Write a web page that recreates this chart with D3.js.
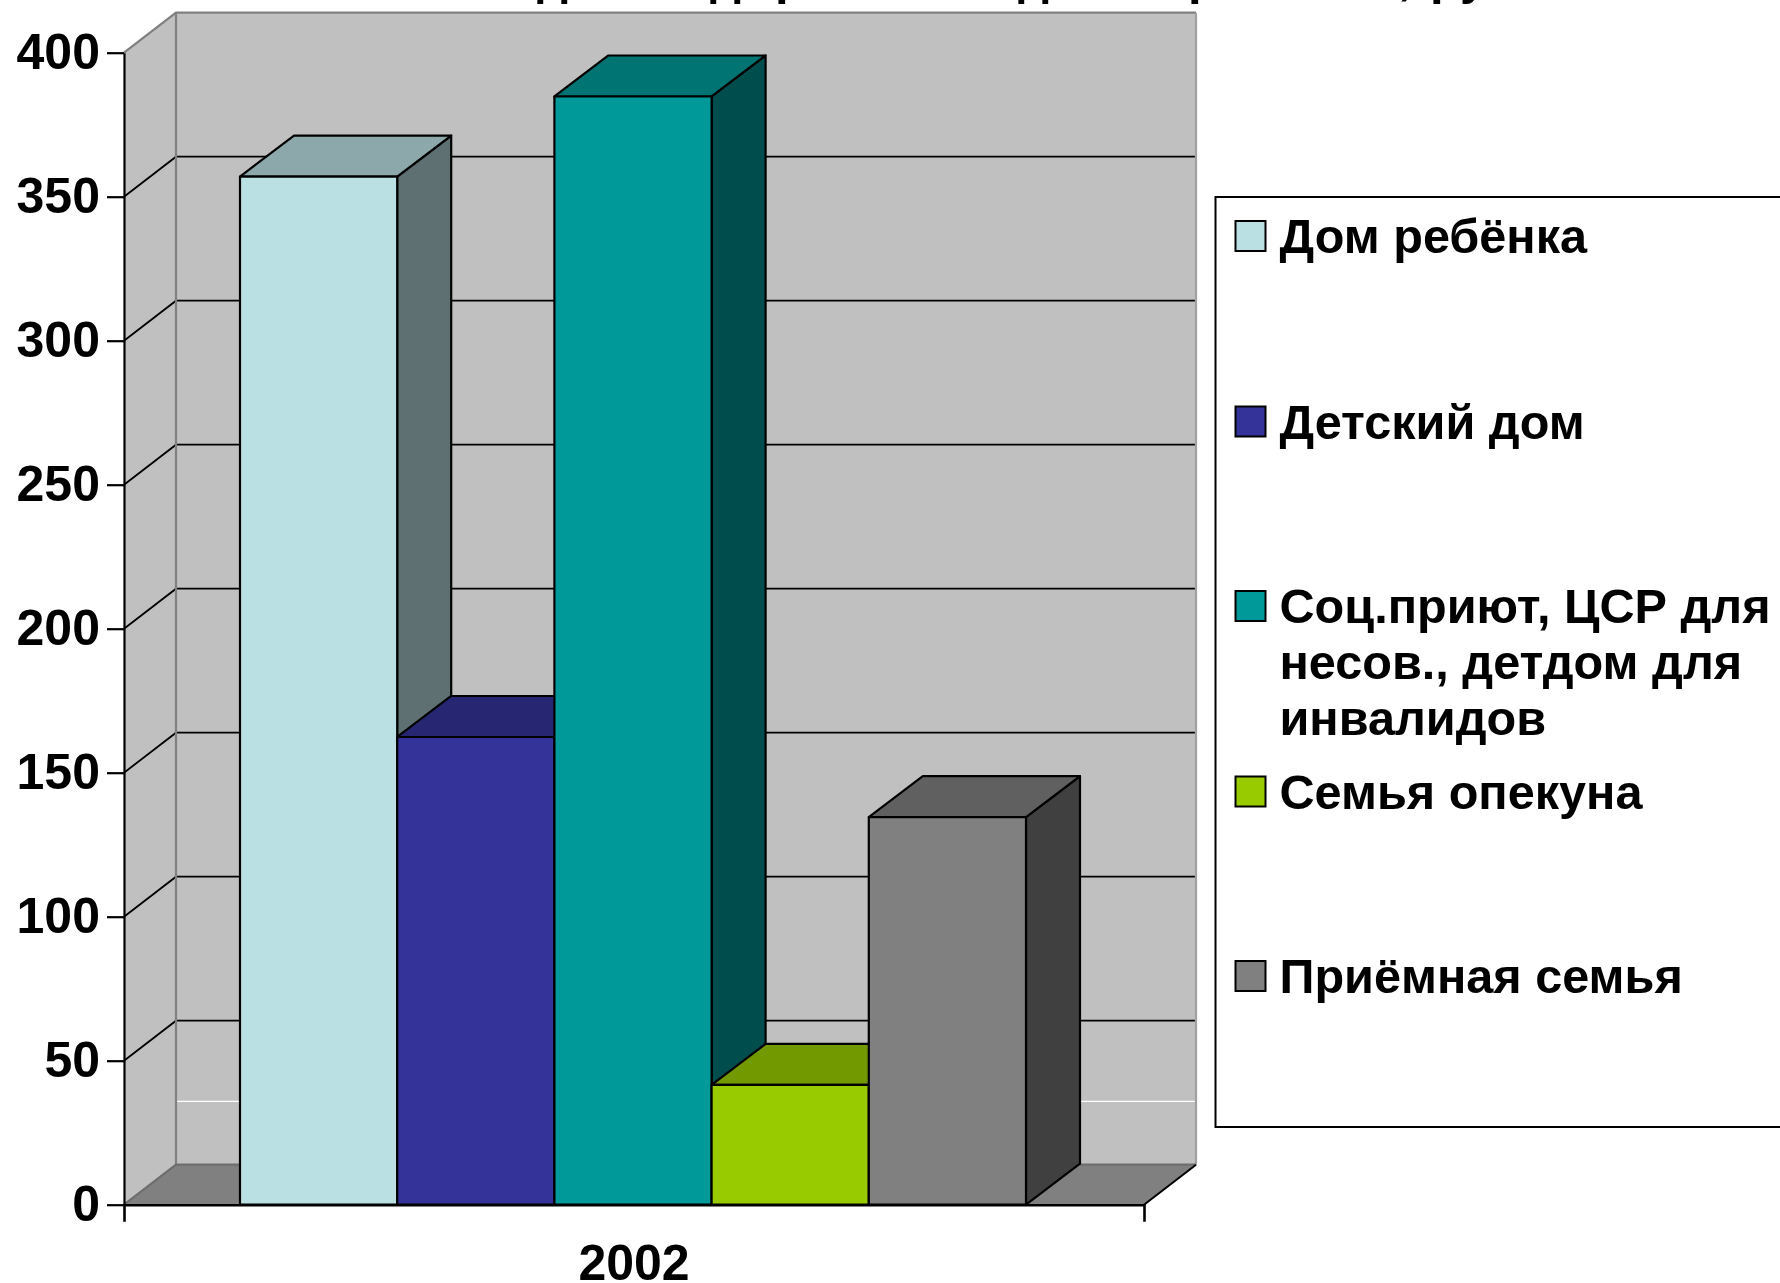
<!DOCTYPE html>
<html>
<head>
<meta charset="utf-8">
<script src="https://cdn.jsdelivr.net/npm/d3@7"></script>
<style>
  html, body { margin: 0; padding: 0; background: #fff; }
  svg { display: block; }
  text { font-family: "Liberation Sans", Arial, sans-serif; font-weight: bold; fill: #000; }
</style>
</head>
<body>
<svg id="chart"></svg>
<script>
const years = ["2002"];
const seriesNames = ["Дом ребёнка", "Детский дом", "Соц.приют, ЦСР для несов., детдом для инвалидов", "Семья опекуна", "Приёмная семья"];
const seriesValues = [357, 162.4, 384.8, 41.6, 134.6];
const yTicks = [0, 50, 100, 150, 200, 250, 300, 350, 400];
const whiteLineValue = 22;

const frontColors = ["#BBE0E3", "#333399", "#009999", "#99CC00", "#808080"];
const topColors = ["#8CA8AA", "#262673", "#007373", "#739900", "#606060"];
const sideColors = ["#5E7072", "#1A1A4D", "#004D4D", "#4D6600", "#404040"];

// the top of the picture cuts the title off, only these descenders are left
const titleGlyphs = ["д", "д", "р", "д", "р", ",", "р", "у"];
const titleGlyphX = [537, 710, 775, 1018, 1188, 1398, 1430, 1460];

const legendLines = [["Дом ребёнка"], ["Детский дом"], ["Соц.приют, ЦСР для", "несов., детдом для", "инвалидов"], ["Семья опекуна"], ["Приёмная семья"]];
const legendBaselines = [253, 438.5, 623, 808.5, 993];

const width = 1780, height = 1283;
const depthX = 52, depthY = 40, barDepthX = 54, barDepthY = 41;
const left = 124, right = 1144, y0 = 1204.7, y400 = 52.7;

const svg = d3.select("#chart").attr("width", width).attr("height", height);

const y = d3.scaleLinear().domain([0, 400]).range([y0, y400]);
const x = d3.scaleBand().domain(years).range([left, right]);
const barX = d3.scaleBand().domain(seriesNames).range([240, 1026]);

const poly = pts => pts.map(p => p.join(",")).join(" ");

// walls and floor
const walls = svg.append("g");
walls.append("polygon")
  .attr("points", poly([[left + depthX, y400 - depthY], [right + depthX, y400 - depthY], [right + depthX, y0 - depthY], [left + depthX, y0 - depthY]]))
  .attr("fill", "#C0C0C0");
walls.append("polygon")
  .attr("points", poly([[left, y400], [left + depthX, y400 - depthY], [left + depthX, y0 - depthY], [left, y0]]))
  .attr("fill", "#C0C0C0");
walls.append("polygon")
  .attr("points", poly([[left, y0], [right, y0], [right + depthX, y0 - depthY], [left + depthX, y0 - depthY]]))
  .attr("fill", "#808080");

// gridlines, the 0 and 400 levels are the wall edges
const grid = svg.append("g").attr("fill", "none").attr("stroke", "#000").attr("stroke-width", 1.8);
yTicks.filter(d => d > 0 && d < 400).forEach(d => {
  grid.append("polyline")
    .attr("points", poly([[left, y(d)], [left + depthX, y(d) - depthY], [right + depthX, y(d) - depthY]]));
});
walls.append("line")
  .attr("x1", left + depthX).attr("x2", right + depthX)
  .attr("y1", y(whiteLineValue) - depthY).attr("y2", y(whiteLineValue) - depthY)
  .attr("stroke", "#fff").attr("stroke-width", 1.2);

// wall edges
const edges = svg.append("g").attr("fill", "none").attr("stroke", "#808080").attr("stroke-width", 2.2);
edges.append("polyline")
  .attr("points", poly([[left, y400], [left + depthX, y400 - depthY], [right + depthX, y400 - depthY]]))
  .attr("stroke", "#7F7F7F");
edges.append("line")
  .attr("x1", right + depthX).attr("x2", right + depthX)
  .attr("y1", y400 - depthY).attr("y2", y0 - depthY)
  .attr("stroke", "#A0A0A0");
edges.append("line")
  .attr("x1", left + depthX).attr("x2", left + depthX)
  .attr("y1", y400 - depthY).attr("y2", y0 - depthY);
edges.append("polyline")
  .attr("points", poly([[left, y0], [left + depthX, y0 - depthY], [right + depthX, y0 - depthY]]))
  .attr("stroke", "#6E6E6E");
svg.append("line")
  .attr("x1", right).attr("y1", y0)
  .attr("x2", right + depthX).attr("y2", y0 - depthY)
  .attr("stroke", "#000").attr("stroke-width", 2);

// bars, painted left to right so every front hides the previous side
const bars = svg.append("g").selectAll("g")
  .data(seriesNames)
  .enter()
  .append("g")
  .attr("stroke", "#000")
  .attr("stroke-width", 2.2)
  .attr("stroke-linejoin", "round");

bars.append("polygon")
  .attr("points", (d, i) => {
    const xr = barX(d) + barX.bandwidth(), yt = y(seriesValues[i]);
    return poly([[xr, yt], [xr + barDepthX, yt - barDepthY], [xr + barDepthX, y0 - barDepthY], [xr, y0]]);
  })
  .attr("fill", (d, i) => sideColors[i]);
bars.append("polygon")
  .attr("points", (d, i) => {
    const xl = barX(d), xr = xl + barX.bandwidth(), yt = y(seriesValues[i]);
    return poly([[xl, yt], [xl + barDepthX, yt - barDepthY], [xr + barDepthX, yt - barDepthY], [xr, yt]]);
  })
  .attr("fill", (d, i) => topColors[i]);
bars.append("rect")
  .attr("x", d => barX(d))
  .attr("y", (d, i) => y(seriesValues[i]))
  .attr("width", barX.bandwidth())
  .attr("height", (d, i) => y0 - y(seriesValues[i]))
  .attr("fill", (d, i) => frontColors[i]);

// axes
const yAxis = svg.append("g")
  .attr("transform", `translate(${left},0)`)
  .call(d3.axisLeft(y).tickValues(yTicks).tickSize(17).tickSizeOuter(0).tickPadding(7));
yAxis.selectAll("line, path").attr("stroke", "#000").attr("stroke-width", 2.2);
yAxis.selectAll("text").attr("font-size", 50).style("font-family", "Liberation Sans");

const xAxis = svg.append("g")
  .attr("transform", `translate(0,${y0})`)
  .call(d3.axisBottom(x).tickSizeInner(0).tickSizeOuter(17));
xAxis.select("path").attr("stroke", "#000").attr("stroke-width", 2.6);
xAxis.selectAll(".tick line").remove();
xAxis.selectAll("text").attr("font-size", 50).attr("dy", 0).attr("y", 75).style("font-family", "Liberation Sans");

// what is left of the title
svg.append("g").selectAll("text")
  .data(titleGlyphs)
  .enter()
  .append("text")
  .attr("x", (d, i) => titleGlyphX[i])
  .attr("y", -6)
  .attr("font-size", 49)
  .text(d => d);

// legend, its box runs off the right side of the picture
const legend = svg.append("g");
legend.append("path")
  .attr("d", `M${width},197H1215.5V1127H${width}`)
  .attr("fill", "#fff")
  .attr("stroke", "#000")
  .attr("stroke-width", 2);

const legendItems = legend.selectAll("g.item")
  .data(seriesNames)
  .enter()
  .append("g")
  .attr("class", "item");

legendItems.append("rect")
  .attr("x", 1235.5)
  .attr("y", (d, i) => legendBaselines[i] - 32)
  .attr("width", 30)
  .attr("height", 30)
  .attr("fill", (d, i) => frontColors[i])
  .attr("stroke", "#000")
  .attr("stroke-width", 2);

legendItems.append("text")
  .attr("font-size", 48.6)
  .attr("y", (d, i) => legendBaselines[i])
  .selectAll("tspan")
  .data((d, i) => legendLines[i])
  .enter()
  .append("tspan")
  .attr("x", 1279.5)
  .attr("dy", (d, i) => i ? 56 : 0)
  .text(d => d);
</script>
</body>
</html>
